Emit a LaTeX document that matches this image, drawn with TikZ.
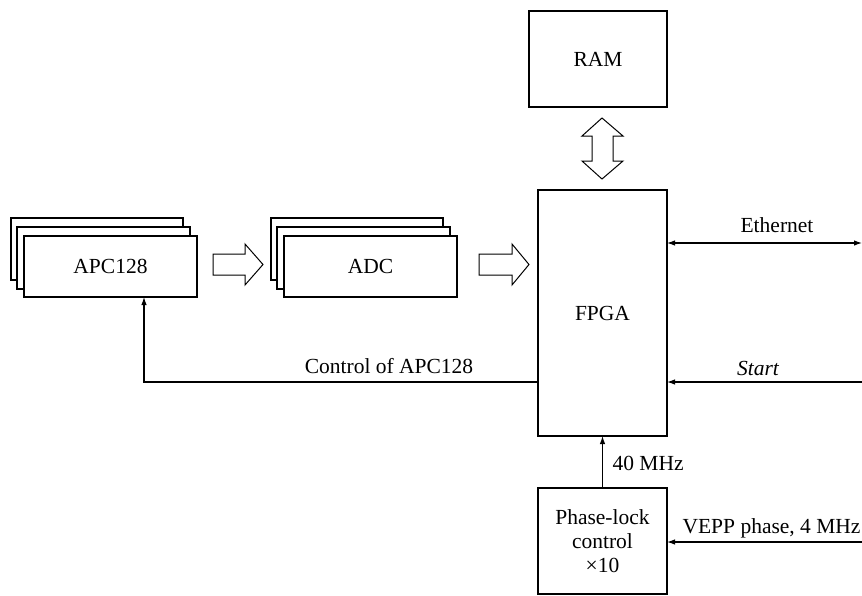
\documentclass[tikz,border=0pt]{standalone}
\usepackage{fontspec}
\setmainfont{Liberation Serif}
\usetikzlibrary{arrows.meta}
\begin{document}
\begin{tikzpicture}[x=1pt,y=-1pt,
  line width=1.1pt,
  every node/.style={font=\fontsize{21.5}{24}\selectfont},
  blockbox/.style={draw, fill=white, minimum width=#1, inner sep=0pt, outer sep=0pt},
  tip/.style={-{Latex[length=8pt,width=5.5pt]}},
  bothtip/.style={{Latex[length=8pt,width=5.5pt]}-{Latex[length=8pt,width=5.5pt]}},
  hollow/.style={draw, fill=white, line width=1pt, line join=miter}]
\useasboundingbox (0,0) rectangle (862,595);

% stacked APC128 boards
\draw[fill=white] (11,218) rectangle (183,280);
\draw[fill=white] (17,227) rectangle (190,289);
\node[blockbox=173pt, minimum height=61pt] (apc) at (110.5,266.5) {APC128};

% stacked ADC boards
\draw[fill=white] (271,218) rectangle (443,280);
\draw[fill=white] (277,227) rectangle (450,289);
\node[blockbox=173pt, minimum height=61pt] (adc) at (370.5,266.5) {ADC};

% main blocks
\node[blockbox=138pt, minimum height=96pt] (ram) at (598,59) {RAM};
\node[blockbox=129pt, minimum height=246pt] (fpga) at (602.5,313) {FPGA};
\node[blockbox=129pt, minimum height=106pt, align=center] (pll) at (602.5,541)
  {Phase-lock\\control\\×10};

% wide data arrows
\draw[hollow] (213,254) -- (245,254) -- (245,244) -- (263,264.5) -- (245,285)
  -- (245,275) -- (213,275) -- cycle;
\draw[hollow] (479,254) -- (512,254) -- (512,244) -- (529,264.5) -- (512,285)
  -- (512,275) -- (479,275) -- cycle;

% RAM <-> FPGA bus
\draw[hollow] (602,118) -- (623,136) -- (613,136) -- (613,161) -- (623,161)
  -- (602,179) -- (582,161) -- (592,161) -- (592,136) -- (582,136) -- cycle;

% external signals
\coordinate (ethR) at (862,243);
\coordinate (startR) at (862,382);
\coordinate (veppR) at (862,542);
\draw[bothtip] (fpga.east |- ethR) -- (ethR);
\node[anchor=base] (ethlbl) at (777,232) {Ethernet};
\draw[tip] (startR) -- (fpga.east |- startR);
\node[anchor=base] (startlbl) at (758,375) {\itshape Start};
\draw[tip] (veppR) -- (pll.east |- veppR);
\node[anchor=base west, inner sep=0pt] (vepplbl) at (682,533) {VEPP phase, 4 MHz};

% clock
\draw[tip] (pll.north) -- (fpga.south);
\node[anchor=base west, inner sep=0pt] (clklbl) at (612,470) {40 MHz};

% control path back to the front-end boards
\coordinate (ctlCorner) at (144,382);
\draw[tip] (fpga.west |- ctlCorner) -- (ctlCorner) -- (ctlCorner |- apc.south);
\node[anchor=base] (ctllbl) at (389,373) {Control of APC128};
\end{tikzpicture}
\end{document}
